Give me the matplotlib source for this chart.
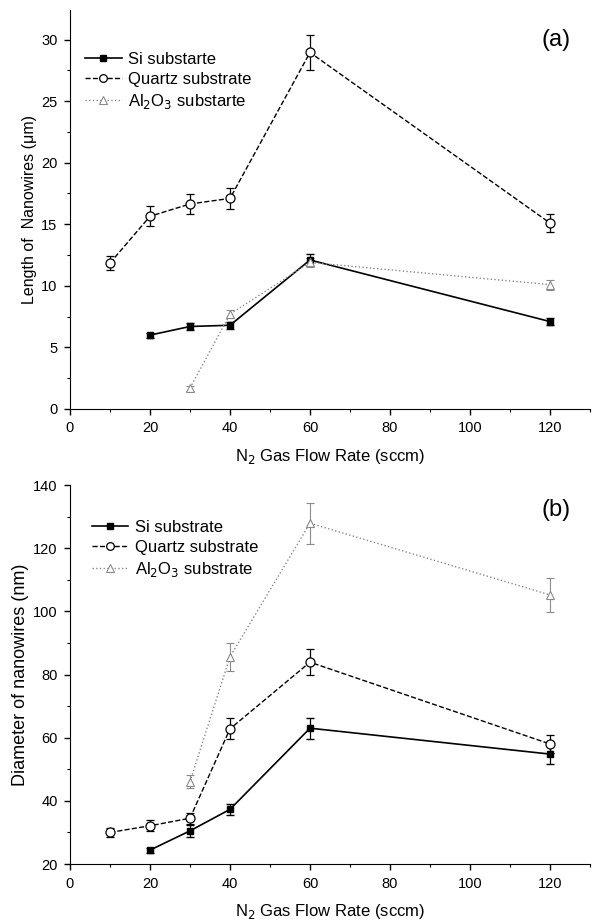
import matplotlib.pyplot as plt
from matplotlib.ticker import MultipleLocator

plt.rcParams["font.family"] = ["Liberation Sans", "DejaVu Sans"]

# N2 flow rates (sccm)
flow_si = [20, 30, 40, 60, 120]
flow_quartz = [10, 20, 30, 40, 60, 120]
flow_al = [30, 40, 60, 120]

# (a) nanowire length (um)
len_si = [6.0, 6.7, 6.8, 12.1, 7.1]
len_si_err = [0.2, 0.25, 0.3, 0.5, 0.3]
len_quartz = [11.85, 15.65, 16.65, 17.1, 28.95, 15.1]
len_quartz_err = [0.6, 0.8, 0.8, 0.85, 1.45, 0.75]
len_al = [1.7, 7.7, 11.9, 10.1]
len_al_err = [0.2, 0.3, 0.4, 0.4]

# (b) nanowire diameter (nm)
dia_si = [24.4, 30.5, 37.3, 63.0, 54.8]
dia_si_err = [0.8, 2.0, 1.8, 3.3, 3.0]
dia_quartz = [30.0, 32.1, 34.5, 62.8, 83.9, 58.0]
dia_quartz_err = [1.5, 1.7, 1.8, 3.3, 4.1, 2.8]
dia_al = [46.1, 85.6, 127.9, 105.2]
dia_al_err = [2.0, 4.5, 6.5, 5.4]

GRAY = "#8a8a8a"


def draw_panel(ax, si, si_err, qz, qz_err, al, al_err, labels, legend_anchor):
    c1 = ax.errorbar(flow_si, si, yerr=si_err, color="black", linestyle="-",
                     linewidth=1.2, marker="s", markersize=5, capsize=3,
                     elinewidth=0.9, label=labels[0])
    c2 = ax.errorbar(flow_quartz, qz, yerr=qz_err, color="black", linestyle="--",
                     linewidth=1.0, marker="o", markersize=6.5,
                     markerfacecolor="white", markeredgewidth=0.9, capsize=3,
                     elinewidth=0.9, label=labels[1])
    c3 = ax.errorbar(flow_al, al, yerr=al_err, color=GRAY, linestyle=":",
                     linewidth=1.0, marker="^", markersize=6,
                     markerfacecolor="white", markeredgewidth=0.8, capsize=3,
                     elinewidth=0.8, label=labels[2])
    ax.spines["top"].set_visible(False)
    ax.spines["right"].set_visible(False)
    ax.set_xlim(0, 130)
    ax.xaxis.set_major_locator(MultipleLocator(20))
    ax.xaxis.set_minor_locator(MultipleLocator(10))
    ax.tick_params(which="both", direction="out", labelsize=10.5)
    ax.tick_params(which="major", length=4, width=1, pad=5)
    ax.tick_params(which="minor", length=2.5, width=0.8)
    ax.set_xlabel("N$_2$ Gas Flow Rate (sccm)", fontsize=12, labelpad=8)
    # legend shows only line + marker, without the error bars
    ax.legend(handles=[c1[0], c2[0], c3[0]], labels=labels, loc="upper left",
              bbox_to_anchor=legend_anchor, frameon=False, fontsize=12,
              handlelength=2.2, handletextpad=0.4, labelspacing=0.3,
              markerscale=0.85)


fig = plt.figure(figsize=(5.97, 9.22), dpi=100)
ax1 = fig.add_axes([70 / 597, 1 - 409 / 922, 520 / 597, 399 / 922])
ax2 = fig.add_axes([70 / 597, 1 - 864 / 922, 520 / 597, 379 / 922])

draw_panel(ax1, len_si, len_si_err, len_quartz, len_quartz_err, len_al, len_al_err,
           ["Si substarte", "Quartz substrate", "Al$_2$O$_3$ substarte"],
           (0.0, 0.933))
ax1.set_ylim(0, 32.4)
ax1.yaxis.set_major_locator(MultipleLocator(5))
ax1.yaxis.set_minor_locator(MultipleLocator(2.5))
ax1.set_ylabel("Length of  Nanowires (\u03bcm)", fontsize=11.5, labelpad=3)
ax1.text(0.935, 0.925, "(a)", transform=ax1.transAxes, fontsize=17,
         ha="center", va="center")

draw_panel(ax2, dia_si, dia_si_err, dia_quartz, dia_quartz_err, dia_al, dia_al_err,
           ["Si substrate", "Quartz substrate", "Al$_2$O$_3$ substrate"],
           (0.013, 0.947))
ax2.set_ylim(20, 140)
ax2.yaxis.set_major_locator(MultipleLocator(20))
ax2.yaxis.set_minor_locator(MultipleLocator(10))
ax2.set_ylabel("Diameter of nanowires (nm)", fontsize=13, labelpad=3)
ax2.text(0.935, 0.934, "(b)", transform=ax2.transAxes, fontsize=17,
         ha="center", va="center")

fig.savefig("out.png", dpi=100)
